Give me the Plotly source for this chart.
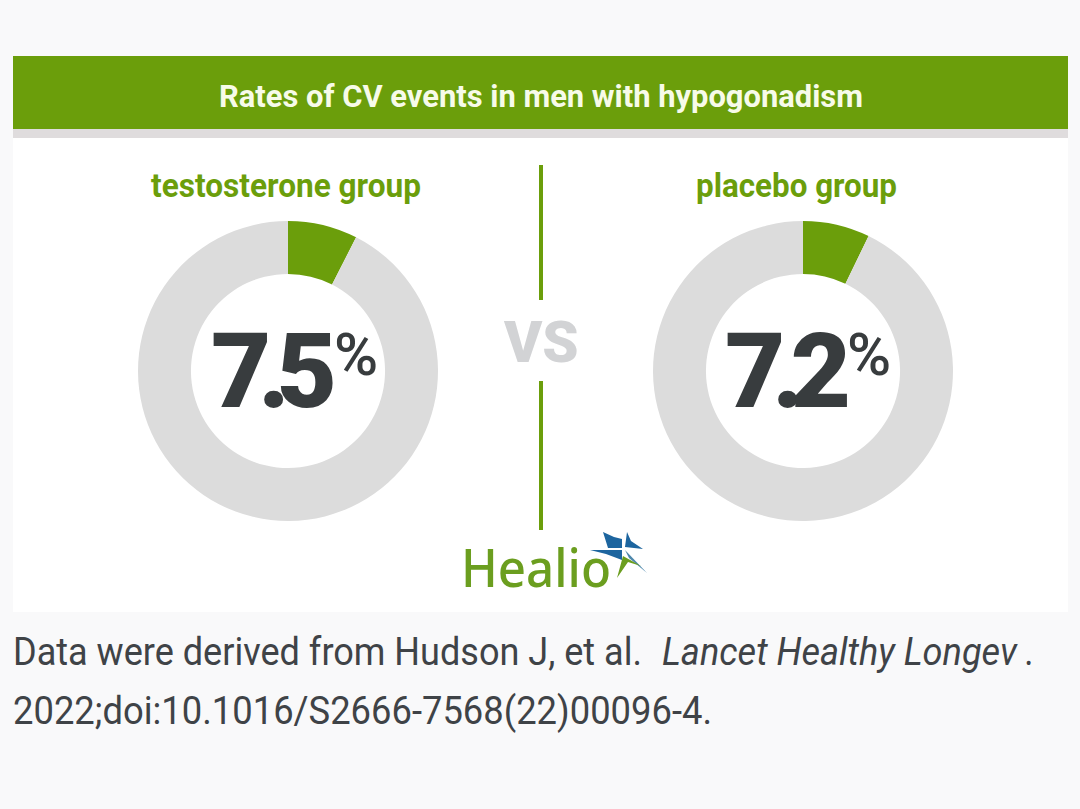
import json
import plotly.graph_objects as go

W = 1080
H = 809

groups = ['testosterone group', 'placebo group']
rates = [7.5, 7.2]
parts = ['CV events', 'no CV events']
title_text = 'Rates of CV events in men with hypogonadism'
source_1 = 'Data were derived from Hudson J, et al.'
source_2 = 'Lancet Healthy Longev .'
source_3 = '2022;doi:10.1016/S2666-7568(22)00096-4.'

GREEN = '#6b9e0b'
GRAY = '#dcdcdc'
DARK = '#383c3e'
TEXT = '#3f4347'


def fx(px):
    return px / W


def fy(px):
    return 1 - px / H


def rect(x0, y0, x1, y1, color):
    return dict(type='rect', xref='paper', yref='paper', x0=fx(x0), x1=fx(x1),
                y0=fy(y1), y1=fy(y0), fillcolor=color, line_width=0, layer='below')


def poly(points, color):
    d = 'M ' + ' L '.join(f'{fx(x):.5f} {fy(y):.5f}' for x, y in points) + ' Z'
    return dict(type='path', xref='paper', yref='paper', path=d, fillcolor=color,
                line_width=0, layer='above')


def label(x, y, text, size, color, weight=400, anchor='center', family='Roboto', style='normal'):
    return dict(xref='paper', yref='paper', x=fx(x), y=fy(y), text=text, showarrow=False,
                xanchor=anchor, yanchor='middle', align='left',
                font=dict(family=family, size=size, color=color, weight=weight, style=style))


fig = go.Figure()

# donuts
centers = [288, 803]
for name, rate, cx in zip(groups, rates, centers):
    fig.add_trace(go.Pie(
        labels=parts, values=[rate, 100 - rate], name=name, hole=0.647, sort=False,
        direction='clockwise', rotation=0, textinfo='none', hoverinfo='skip',
        marker=dict(colors=[GREEN, GRAY], line=dict(width=0)),
        domain=dict(x=[fx(cx - 150), fx(cx + 150)], y=[fy(521), fy(221)]),
    ))

shapes = [
    rect(13, 56, 1068, 129, GREEN),
    rect(13, 129, 1068, 138, '#dfdcdd'),
    rect(13, 138, 1068, 612, '#ffffff'),
    rect(539, 165, 543, 300, GREEN),
    rect(539, 381, 543, 530, GREEN),
    # logo star
    poly([(603, 532), (614, 537), (622, 539), (622, 548), (608, 548)], '#1d659f'),
    poly([(590, 550), (622, 550), (622, 560), (606, 554)], '#1d659f'),
    poly([(627, 532), (625, 547), (643, 549), (631, 541)], '#1d659f'),
    poly([(625, 550), (647, 573), (629, 558)], '#4d87ab'),
    poly([(617, 578), (623, 556), (641, 566), (628, 562)], '#6b9e1f'),
]

annotations = [
    label(552, 96, title_text, 32, '#f7fbe9', 700),
    label(292, 185, groups[0], 33, GREEN, 700),
    label(801, 185, groups[1], 33, GREEN, 700),
    label(541, 342, 'VS', 58, '#d2d3d5', 900),
    label(286.5, 371, f'{rates[0]}', 104, DARK, 900),
    label(356, 355, '%', 60, DARK, 500),
    label(801, 371, f'{rates[1]}', 104, DARK, 900),
    label(869, 355, '%', 60, DARK, 500),
    label(459, 566, 'Healio', 53, '#6b9e1f', 500, 'left', 'Noto Sans'),
    label(11, 652, source_1, 39, TEXT, 400, 'left'),
    label(660, 652, source_2, 39, TEXT, 400, 'left', style='italic'),
    label(11, 711, source_3, 39, TEXT, 400, 'left'),
]

fig.update_layout(
    width=W, height=H, margin=dict(l=0, r=0, t=0, b=0), showlegend=False,
    paper_bgcolor='#f9f9fa', plot_bgcolor='#f9f9fa',
    shapes=shapes, annotations=annotations,
)

# the picture uses a condensed face and tight digits, so fit those texts after drawing
fit = {title_text: 644, groups[0]: 270, groups[1]: 201, source_1: 629, source_2: 373, source_3: 699,
       'Healio': 150}
tight = {f'{rates[0]}': -13, f'{rates[1]}': -13}
post = """
document.body.style.margin='0';
var fit=%s, tight=%s;
document.querySelectorAll('.annotation-text').forEach(function(t){
  var s=t.textContent;
  if(fit[s]){t.setAttribute('textLength',fit[s]);t.setAttribute('lengthAdjust','spacingAndGlyphs');}
  if(tight[s]){t.style.letterSpacing=tight[s]+'px';}
});
""" % (json.dumps(fit), json.dumps(tight))

fig.write_html('out.html', post_script=post, config=dict(displayModeBar=False))
